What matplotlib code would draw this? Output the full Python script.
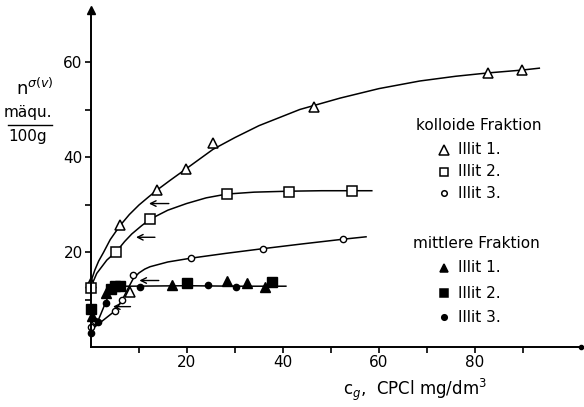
import numpy as np
import matplotlib
matplotlib.use('Agg')
import matplotlib.pyplot as plt
from matplotlib.ticker import FixedLocator

W, H = 584, 407

# kolloide Fraktion (open markers)
k1_x = [0.0, 6.0, 8.1, 13.7, 19.8, 25.4, 46.5, 82.7, 89.8]
k1_y = [13.5, 25.7, 11.6, 33.0, 37.5, 43.0, 50.5, 57.7, 58.3]
k2_x = [0.0, 5.2, 12.3, 28.3, 41.2, 54.3]
k2_y = [12.4, 19.9, 26.9, 32.3, 32.7, 32.9]
k3_x = [0.0, 0.8, 5.0, 6.5, 8.8, 20.8, 35.8, 52.6]
k3_y = [4.3, 5.4, 7.6, 9.9, 15.2, 18.7, 20.7, 22.7]

# mittlere Fraktion (filled markers)
m1_x = [0.2, 3.1, 16.8, 28.3, 32.4, 36.2]
m1_y = [6.6, 11.4, 13.1, 13.8, 13.4, 12.6]
m2_x = [0.0, 4.2, 5.0, 6.0, 19.9, 37.8]
m2_y = [8.0, 12.2, 12.8, 12.8, 13.4, 13.6]
m3_x = [0.0, 1.5, 3.1, 10.2, 24.3, 30.3]
m3_y = [2.9, 5.2, 9.2, 12.6, 13.1, 12.7]

# hand drawn fit curves
c1_x = [0.0, 0.8, 1.6, 2.6, 4.0, 6.0, 8.0, 10.0, 12.0, 13.7, 16.5, 19.8, 25.4, 30.0, 35.0, 43.5,
		51.9, 60.0, 68.5, 76.0, 82.7, 89.8, 93.4]
c1_y = [13.8, 16.2, 18.1, 19.9, 22.6, 25.5, 27.9, 29.9, 31.6, 33.0, 35.1, 37.5, 41.6, 44.1, 46.6, 50.0,
		52.4, 54.4, 56.0, 57.0, 57.7, 58.3, 58.7]
c2_x = [0.0, 1.2, 3.3, 5.3, 7.0, 8.5, 10.5, 12.3, 16.0, 19.9, 24.0, 28.3, 34.0, 41.2, 48.0, 54.3, 58.5]
c2_y = [12.7, 15.5, 18.3, 20.1, 22.2, 23.8, 25.5, 26.9, 28.8, 30.2, 31.4, 32.2, 32.6, 32.8, 32.9, 32.9, 32.9]
c3_x = [0.0, 2.5, 5.0, 6.5, 7.8, 8.8, 10.0, 11.2, 12.3, 16.0, 20.8, 28.0, 35.8, 44.0, 52.6, 57.3]
c3_y = [3.6, 5.6, 7.6, 9.9, 12.5, 14.4, 15.6, 16.4, 16.9, 17.9, 18.7, 19.7, 20.7, 21.7, 22.7, 23.2]
cm_x = [0.0, 1.5, 3.1, 4.0, 4.8, 5.8, 8.0, 20.0, 30.0, 40.6]
cm_y = [3.0, 5.6, 9.5, 11.6, 12.5, 12.8, 12.8, 12.9, 12.8, 12.8]

# arrows (tail -> tip)
arr_tail_x = [16.8, 13.9, 14.7, 8.8]
arr_tip_x = [11.5, 8.8, 9.5, 4.0]
arr_y = [30.2, 23.1, 14.0, 8.5]


def px(x, y):
	return x / W, 1 - y / H


fig = plt.figure(figsize=(W / 100, H / 100), dpi=100)
ax = fig.add_axes([91 / W, 60 / H, 489.6 / W, 337.25 / H])
ax.set_xlim(0, 102)
ax.set_ylim(0, 71)

for s in ['top', 'right']:
	ax.spines[s].set_visible(False)
for s in ['left', 'bottom']:
	ax.spines[s].set_linewidth(1.4)

ax.set_xticks([20, 40, 60, 80])
ax.set_yticks([20, 40, 60])
ax.xaxis.set_minor_locator(FixedLocator([10, 30, 50, 70, 90]))
ax.yaxis.set_minor_locator(FixedLocator([10, 30, 50]))
ax.tick_params(which='both', direction='out', length=4, width=1.2, labelsize=11, pad=2)

# axis arrow / end
ax.plot(0, 1, marker='^', color='k', ms=6, transform=ax.transAxes, clip_on=False)
ax.plot(1, 0, marker='o', color='k', ms=3, transform=ax.transAxes, clip_on=False)

lw = 1.1
for cx, cy in [(c1_x, c1_y), (c2_x, c2_y), (c3_x, c3_y), (cm_x, cm_y)]:
	ax.plot(cx, cy, color='k', lw=lw, clip_on=False)

ax.plot(k1_x, k1_y, ls='none', marker='^', mfc='white', mec='k', ms=7, mew=1.1, clip_on=False)
ax.plot(k2_x, k2_y, ls='none', marker='s', mfc='white', mec='k', ms=7, mew=1.1, clip_on=False)
ax.plot(k3_x, k3_y, ls='none', marker='o', mfc='white', mec='k', ms=4.5, mew=1.0, clip_on=False)
ax.plot(m1_x, m1_y, ls='none', marker='^', color='k', ms=7, clip_on=False)
ax.plot(m2_x, m2_y, ls='none', marker='s', color='k', ms=7, clip_on=False)
ax.plot(m3_x, m3_y, ls='none', marker='o', color='k', ms=4.5, clip_on=False)

for tx, hx, ay in zip(arr_tail_x, arr_tip_x, arr_y):
	ax.annotate('', xy=(hx, ay), xytext=(tx, ay),
				arrowprops=dict(arrowstyle='->', color='k', lw=1.0))

# y label
fig.text(*px(35, 88), r'n$^{\sigma(v)}$', fontsize=13, ha='center', va='center')
fig.text(*px(28, 113), 'mäqu.', fontsize=11, ha='center', va='center')
fig.add_artist(plt.Line2D([8 / W, 52 / W], [1 - 125 / H, 1 - 125 / H], color='k', lw=1.0))
fig.text(*px(28, 137), '100g', fontsize=11, ha='center', va='center')

# x label
fig.text(*px(415, 390), r'c$_g$,  CPCl mg/dm$^3$', fontsize=12, ha='center', va='center')

# legend
fig.text(*px(479, 125), 'kolloide Fraktion', fontsize=11, ha='center', va='center')
fig.text(*px(476, 244), 'mittlere Fraktion', fontsize=11, ha='center', va='center')
leg = [
	(150, '^', 'white', 7, 'Illit 1.'),
	(172, 's', 'white', 6, 'Illit 2.'),
	(193, 'o', 'white', 4, 'Illit 3.'),
	(268, '^', 'k', 6, 'Illit 1.'),
	(293, 's', 'k', 6, 'Illit 2.'),
	(317, 'o', 'k', 4, 'Illit 3.'),
]
for yy, mk, fc, ms, lab in leg:
	fx, fy = px(444, yy)
	fig.add_artist(plt.Line2D([fx], [fy], marker=mk, mfc=fc, mec='k', ms=ms, mew=1.1, ls='none'))
	fig.text(*px(458, yy), lab, fontsize=11, ha='left', va='center')

plt.savefig('out.png', dpi=100)
